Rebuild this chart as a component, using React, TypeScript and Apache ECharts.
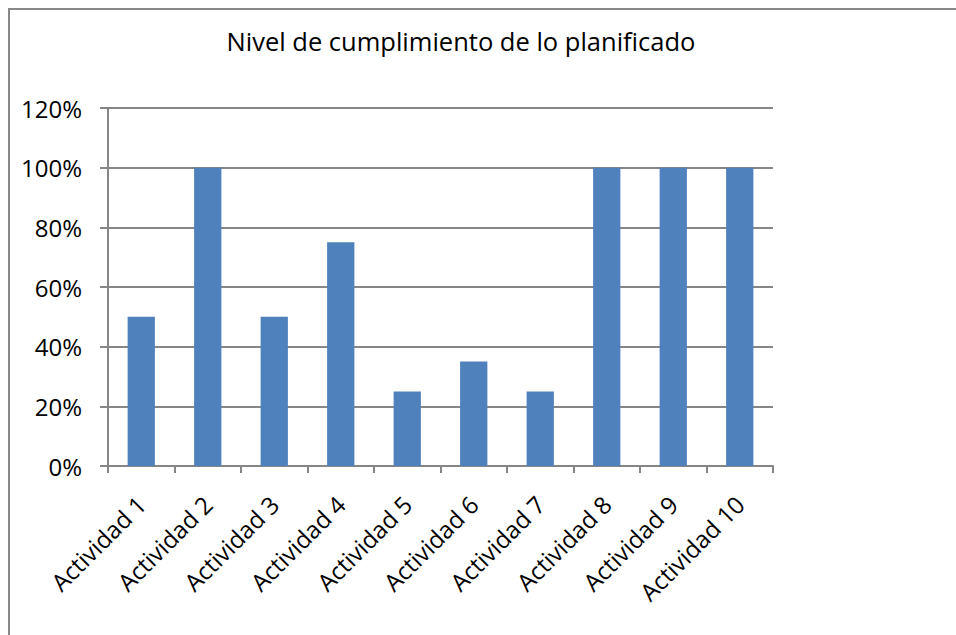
import React, { useEffect, useRef } from "react";
import * as echarts from "echarts";

const categories = [
  "Actividad 1",
  "Actividad 2",
  "Actividad 3",
  "Actividad 4",
  "Actividad 5",
  "Actividad 6",
  "Actividad 7",
  "Actividad 8",
  "Actividad 9",
  "Actividad 10",
];
const values = [50, 100, 50, 75, 25, 35, 25, 100, 100, 100];
const titleText = "Nivel de cumplimiento de lo planificado";

const FONT = "Open Sans";
const GRAY = "#868686";

export default function App() {
  const ref = useRef<HTMLDivElement>(null);
  useEffect(() => {
    if (!ref.current) return;
    const chart = echarts.init(ref.current, undefined, { renderer: "svg" });
    chart.setOption({
      animation: false,
      backgroundColor: "#ffffff",
      title: {
        text: titleText,
        left: 456,
        textAlign: "center",
        top: 23,
        textStyle: { fontFamily: FONT, fontSize: 25.5, fontWeight: "normal", color: "#000" },
      },
      graphic: [
        { type: "line", shape: { x1: 9, y1: 8, x2: 9, y2: 640 }, style: { stroke: "#888", lineWidth: 2 } },
        { type: "line", shape: { x1: 8, y1: 9, x2: 960, y2: 9 }, style: { stroke: "#888", lineWidth: 2 } },
      ],
      grid: { left: 108, right: 183, top: 108, bottom: 169, containLabel: false },
      xAxis: {
        type: "category",
        data: categories,
        boundaryGap: true,
        axisLine: { show: true, lineStyle: { color: GRAY, width: 2 } },
        axisTick: { show: true, length: 7, alignWithLabel: false, lineStyle: { color: GRAY, width: 2 } },
        axisLabel: {
          rotate: 45,
          interval: 0,
          margin: 34,
          fontFamily: FONT,
          fontSize: 24,
          color: "#000",
        },
      },
      yAxis: {
        type: "value",
        min: 0,
        max: 120,
        interval: 20,
        axisLine: { show: true, lineStyle: { color: GRAY, width: 2 } },
        axisTick: { show: true, length: 8, inside: false, lineStyle: { color: GRAY, width: 2 } },
        splitLine: { show: true, lineStyle: { color: GRAY, width: 2 } },
        axisLabel: {
          formatter: "{value}%",
          margin: 26,
          fontFamily: FONT,
          fontSize: 24,
          color: "#000",
        },
      },
      series: [
        {
          type: "bar",
          data: values,
          barWidth: "41%",
          itemStyle: { color: "#4F81BD" },
        },
      ],
    });
    return () => chart.dispose();
  }, []);
  return (
    <div
      ref={ref}
      style={{ position: "absolute", left: 0, top: 0, width: 956, height: 635 }}
    />
  );
}
